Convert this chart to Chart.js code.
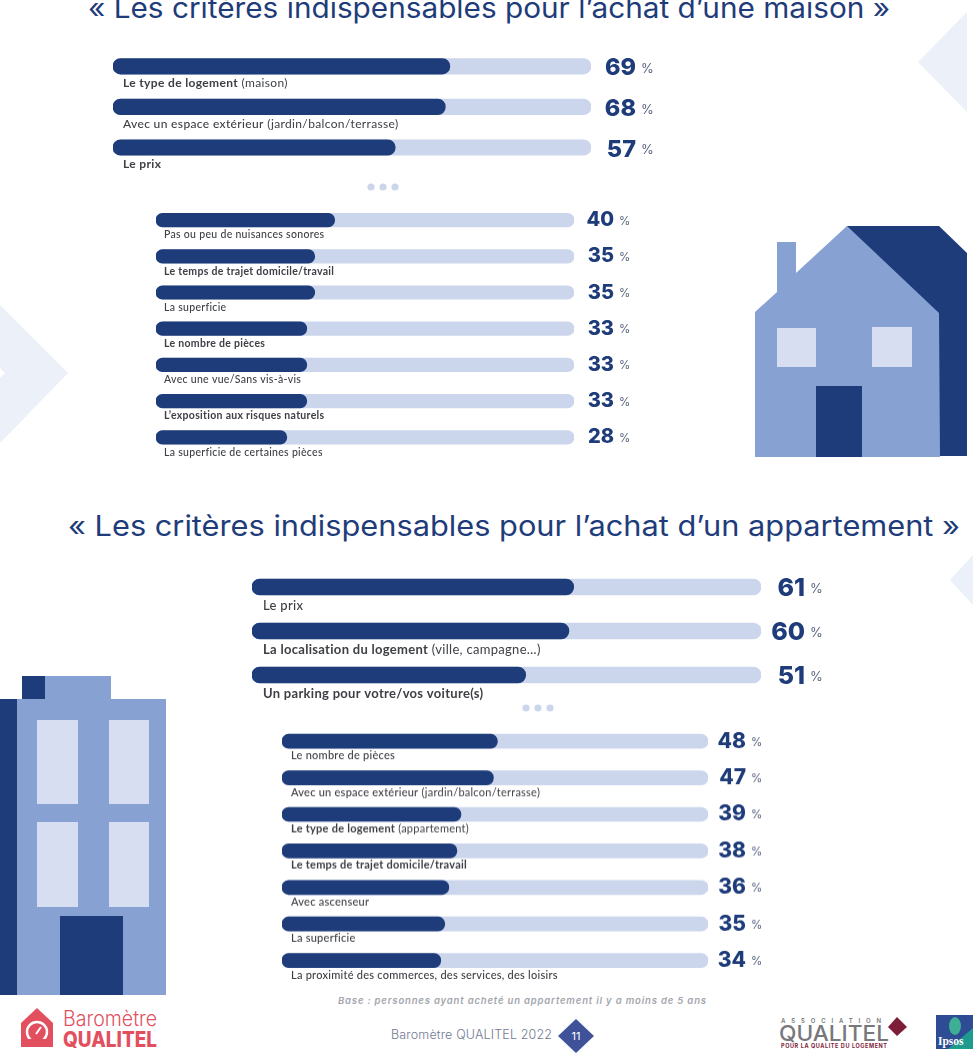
<!DOCTYPE html>
<html lang="fr">
<head>
<meta charset="utf-8">
<title>Les critères indispensables</title>
<script src="https://cdn.jsdelivr.net/npm/chart.js"></script>
<style>
  html, body { margin: 0; padding: 0; background: #fff; }
  #page { position: relative; width: 973px; height: 1063px; overflow: hidden; }
  #decor { position: absolute; left: 0; top: 0; }
  .box { position: absolute; }
  text { font-family: Inter, sans-serif; }
</style>
</head>
<body>
<div id="page">
  <svg id="decor" width="973" height="1063" viewBox="0 0 973 1063">
    <!-- background diamonds -->
    <polygon points="0,305 68,373 0,443 0,378 5,373 0,368" fill="#ECF0F9"/>
    <polygon points="967,12 918,62 967,112" fill="#ECF0F9"/>
    <polygon points="973,555 950,580 973,605" fill="#ECF0F9"/>

    <!-- titles -->
    <text x="88" y="18" font-size="28" font-weight="400" fill="#1F3C7A" textLength="802" lengthAdjust="spacingAndGlyphs">« Les critères indispensables pour l’achat d’une maison »</text>
    <text x="68" y="536" font-size="28" font-weight="400" fill="#1F3C7A" textLength="892" lengthAdjust="spacingAndGlyphs">« Les critères indispensables pour l’achat d’un appartement »</text>

    <!-- dots between the groups -->
    <g fill="#CBD5EB">
      <circle cx="371" cy="187" r="3.6"/><circle cx="383" cy="187" r="3.6"/><circle cx="395" cy="187" r="3.6"/>
      <circle cx="526" cy="708" r="3.6"/><circle cx="538" cy="708" r="3.6"/><circle cx="550" cy="708" r="3.6"/>
    </g>

    <!-- house -->
    <polygon points="847,226 939,226 967,253 967,456 900,456" fill="#1F3C7A"/>
    <polygon points="755,312 777,292 777,242 796,242 796,273 847,226 939,313 940,457 755,457" fill="#88A1D3"/>
    <rect x="777" y="328" width="39" height="39" fill="#D7DEF1"/>
    <rect x="872" y="327" width="40" height="40" fill="#D7DEF1"/>
    <rect x="816" y="386" width="46" height="71" fill="#1F3C7A"/>

    <!-- building -->
    <rect x="0" y="699" width="17" height="296" fill="#1F3C7A"/>
    <rect x="17" y="699" width="149" height="296" fill="#88A1D3"/>
    <rect x="22" y="676" width="23" height="23" fill="#1F3C7A"/>
    <rect x="45" y="676" width="66" height="23" fill="#88A1D3"/>
    <rect x="37" y="720" width="41" height="84" fill="#D7DEF1"/>
    <rect x="109" y="720" width="40" height="84" fill="#D7DEF1"/>
    <rect x="37" y="822" width="41" height="85" fill="#D7DEF1"/>
    <rect x="109" y="822" width="40" height="85" fill="#D7DEF1"/>
    <rect x="60" y="916" width="63" height="79" fill="#1F3C7A"/>

    <!-- Baromètre logo -->
    <polygon points="37,1008 53,1023 53,1047 21,1047 21,1023" fill="#E2505F"/>
    <circle cx="37" cy="1032" r="10" fill="none" stroke="#fff" stroke-width="2.4"/>
    <line x1="36" y1="1034" x2="41" y2="1027" stroke="#fff" stroke-width="2"/>
    <rect x="28" y="1039" width="18" height="8" fill="#E2505F"/>
    <text x="63" y="1026" font-size="21" font-weight="300" fill="#E2505F" textLength="94" lengthAdjust="spacingAndGlyphs">Baromètre</text>
    <text x="63" y="1047" font-size="21" font-weight="800" fill="#E2505F" textLength="94" lengthAdjust="spacingAndGlyphs">QUALITEL</text>

    <!-- footer -->
    <text x="338" y="1004" font-size="9.5" font-weight="600" font-style="italic" fill="#A3A6AD" textLength="368" lengthAdjust="spacing">Base : personnes ayant acheté un appartement il y a moins de 5 ans</text>
    <text x="391" y="1039" font-size="12.5" font-weight="300" fill="#707992" textLength="161" lengthAdjust="spacing">Baromètre QUALITEL 2022</text>
    <polygon points="576,1019 594,1036 576,1053 558,1036" fill="#3F5299"/>
    <text x="576" y="1040" font-size="11" fill="#fff" text-anchor="middle">11</text>

    <!-- association logo -->
    <text x="781" y="1023" font-size="6" font-weight="600" fill="#77787B" textLength="100" lengthAdjust="spacing">ASSOCIATION</text>
    <text x="779" y="1041" font-size="22" font-weight="500" fill="#77787B" textLength="110" lengthAdjust="spacingAndGlyphs">QUALITEL</text>
    <polygon points="897,1017 907,1027 897,1036 888,1027" fill="#7E1D38"/>
    <text x="781" y="1048" font-size="5.5" font-weight="700" fill="#7E1D38" textLength="106" lengthAdjust="spacing">POUR LA QUALITE DU LOGEMENT</text>

    <!-- ipsos logo -->
    <rect x="936" y="1015" width="37" height="34" fill="#2D4C94"/>
    <polygon points="973,1028 973,1049 948,1049" fill="#1F9A8E"/>
    <ellipse cx="955" cy="1026" rx="6" ry="9" fill="#3EAE94"/>
    <text x="938" y="1045" font-size="11.5" font-weight="700" fill="#fff" style="font-family:'Liberation Serif',serif">Ipsos</text>
  </svg>
</div>

<script>
// bought-a-house criteria, top 3
const labelsMaisonTop = ['Le type de logement (maison)', 'Avec un espace extérieur (jardin/balcon/terrasse)', 'Le prix'];
const valuesMaisonTop = [69, 68, 57];

// bought-a-house criteria, the rest
const labelsMaisonRest = ['Pas ou peu de nuisances sonores', 'Le temps de trajet domicile/travail', 'La superficie', 'Le nombre de pièces', 'Avec une vue/Sans vis-à-vis', 'L’exposition aux risques naturels', 'La superficie de certaines pièces'];
const valuesMaisonRest = [40, 35, 35, 33, 33, 33, 28];

// bought-a-flat criteria, top 3
const labelsAppartTop = ['Le prix', 'La localisation du logement (ville, campagne…)', 'Un parking pour votre/vos voiture(s)'];
const valuesAppartTop = [61, 60, 51];

// bought-a-flat criteria, the rest
const labelsAppartRest = ['Le nombre de pièces', 'Avec un espace extérieur (jardin/balcon/terrasse)', 'Le type de logement (appartement)', 'Le temps de trajet domicile/travail', 'Avec ascenseur', 'La superficie', 'La proximité des commerces, des services, des loisirs'];
const valuesAppartRest = [48, 47, 39, 38, 36, 35, 34];

const DARK = '#1F3C7A';
const TRACK = '#CBD6EC';
const TEXT = '#3E4046';

// draws the label under each bar and the value after the track
const rowText = {
  id: 'rowText',
  afterDatasetsDraw(chart, args, opts) {
    const ctx = chart.ctx;
    const xs = chart.scales.x;
    const ys = chart.scales.y;
    const trackEnd = xs.right;
    ctx.save();
    ctx.textBaseline = 'middle';
    chart.data.labels.forEach(function(label, i) {
      const y = ys.getPixelForValue(i);
      // part before the bracket is heavier in the original, on some rows
      const cut = label.indexOf(' (');
      const head = cut > 0 ? label.slice(0, cut) : label;
      const tail = head === label ? '' : label.slice(cut);
      const heavy = opts.heavy.indexOf(i) >= 0;
      ctx.fillStyle = TEXT;
      ctx.textAlign = 'left';
      ctx.font = (heavy ? '700 ' : '500 ') + opts.labelSize + 'px Lato, sans-serif';
      ctx.letterSpacing = opts.labelSpacing + 'px';
      ctx.fillText(head, xs.left + opts.labelIndent, y + opts.labelGap);
      const w = ctx.measureText(head).width;
      ctx.font = '400 ' + opts.labelSize + 'px Lato, sans-serif';
      ctx.fillText(tail, xs.left + opts.labelIndent + w, y + opts.labelGap);
      ctx.letterSpacing = '0px';

      // value and percent sign
      const v = chart.data.datasets[0].data[i];
      ctx.fillStyle = DARK;
      ctx.textAlign = 'right';
      ctx.font = '800 ' + opts.valueSize + 'px Inter, sans-serif';
      ctx.fillText(String(v), trackEnd + opts.valueEnd, y + opts.valueDrop);
      ctx.fillStyle = '#5A6480';
      ctx.textAlign = 'left';
      ctx.font = '400 ' + opts.pctSize + 'px Inter, sans-serif';
      ctx.fillText('%', trackEnd + opts.valueEnd + 5, y + opts.valueDrop + 1);
    });
    ctx.restore();
  }
};

function makeChart(labels, values, cfg) {
  const height = labels.length * cfg.step;
  const box = document.createElement('div');
  box.className = 'box';
  box.style.left = cfg.left + 'px';
  box.style.top = (cfg.firstRow - cfg.step / 2) + 'px';
  box.style.width = (cfg.width + 90) + 'px';
  box.style.height = (height + 14) + 'px';
  const canvas = document.createElement('canvas');
  box.appendChild(canvas);
  document.getElementById('page').appendChild(box);

  // bars start left of the zero so the round cap does not eat the value
  const common = { grouped: false, base: cfg.axisMin, barThickness: cfg.thick, borderRadius: cfg.thick / 2, borderSkipped: false };
  new Chart(canvas, {
    type: 'bar',
    data: {
      labels: labels,
      datasets: [
        Object.assign({ data: values, backgroundColor: DARK }, common),
        Object.assign({ data: labels.map(function() { return 100; }), backgroundColor: TRACK }, common)
      ]
    },
    options: {
      indexAxis: 'y',
      responsive: true,
      maintainAspectRatio: false,
      animation: false,
      layout: { padding: { left: 0, top: 0, right: 90, bottom: 14 } },
      scales: {
        x: { display: false, min: cfg.axisMin, max: 100 },
        y: { display: false }
      },
      plugins: {
        legend: { display: false },
        tooltip: { enabled: false },
        rowText: cfg.text
      }
    },
    plugins: [rowText]
  });
}

makeChart(labelsMaisonTop, valuesMaisonTop, {
  left: 113, width: 478, firstRow: 66, step: 40.6, thick: 15.5, axisMin: -5,
  text: { heavy: [0, 2], labelSize: 12, labelSpacing: 0.35, labelIndent: 10, labelGap: 17, valueSize: 23.5, valueDrop: 2, pctSize: 13, valueEnd: 45 }
});
makeChart(labelsMaisonRest, valuesMaisonRest, {
  left: 156, width: 418, firstRow: 220, step: 36.2, thick: 13.5, axisMin: -4.8,
  text: { heavy: [1, 3, 5], labelSize: 10.5, labelSpacing: 0.3, labelIndent: 8, labelGap: 15, valueSize: 20, valueDrop: 0, pctSize: 11.5, valueEnd: 40 }
});
makeChart(labelsAppartTop, valuesAppartTop, {
  left: 252, width: 509, firstRow: 587, step: 44, thick: 16, axisMin: -6,
  text: { heavy: [1, 2], labelSize: 13, labelSpacing: 0.3, labelIndent: 11, labelGap: 19, valueSize: 25, valueDrop: 1, pctSize: 13, valueEnd: 44 }
});
makeChart(labelsAppartRest, valuesAppartRest, {
  left: 282, width: 426, firstRow: 741, step: 36.4, thick: 14, axisMin: -5.2,
  text: { heavy: [2, 3], labelSize: 11, labelSpacing: 0.25, labelIndent: 9, labelGap: 14.5, valueSize: 21, valueDrop: 0, pctSize: 11.5, valueEnd: 38 }
});
</script>
</body>
</html>
